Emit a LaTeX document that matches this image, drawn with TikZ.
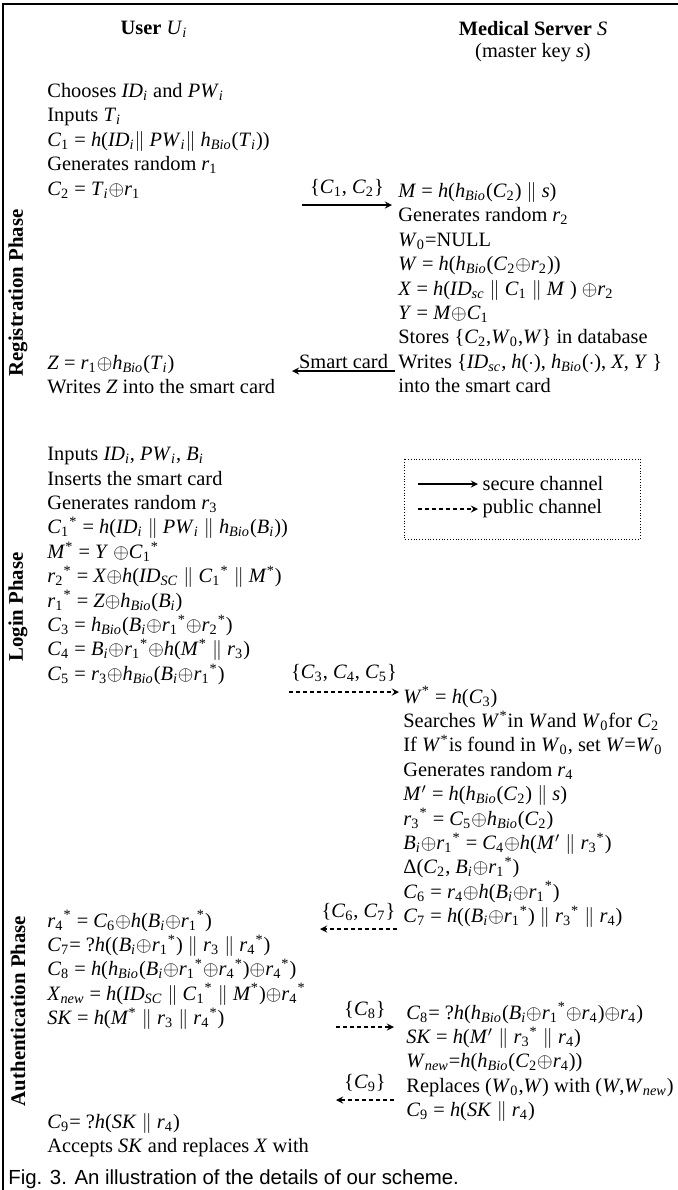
\documentclass[tikz,border=0pt]{standalone}
\usepackage{fontspec}
\setmainfont{Liberation Serif}
\newfontfamily\capfont{Liberation Sans}
\usetikzlibrary{arrows}
\setlength{\lineskiplimit}{-20pt}
\tikzstyle{arrow} = [->,>=stealth]
\tikzstyle{msg} = [arrow, semithick]
\tikzstyle{pub} = [arrow, semithick, dash pattern=on 2pt off 1.5pt]
\tikzstyle{steps} = [anchor=north west, inner sep=0pt, align=left,
font=\fontsize{10.2}{12.2}\selectfont]
\tikzstyle{lbl} = [inner sep=0pt, font=\fontsize{10.2}{12.2}\selectfont]
\tikzstyle{phase} = [rotate=90, inner sep=0pt, font=\bfseries\fontsize{10.4}{12}\selectfont]
\newcommand{\iv}[1]{\textit{#1}}
\newcommand{\lo}[1]{\textsubscript{#1}}
\newcommand{\ilo}[1]{\textsubscript{\textit{#1}}}
\newcommand{\sx}{\textsuperscript{*}}
\newcommand{\xo}{$\oplus$}
\newcommand{\cct}{\ $\|$\ }
\newcommand{\hb}{\textit{h}\ilo{Bio}}
\begin{document}
\begin{tikzpicture}[x=0.5pt, y=-0.5pt]
\useasboundingbox (0,0) rectangle (678,1190);
% Frame
\draw[line width=1pt] (3,1190) -- (3,4) -- (678,4);
% Headers
\node (user) [lbl] at (154,29) {\textbf{User} \iv{U}\ilo{i}};
\node (server) [lbl] at (533,29) {\textbf{Medical Server} \iv{S}};
\node (masterkey) [lbl] at (533,53) {(master key \iv{s})};
% Phases
\node (regphase) [phase] at (18,293) {Registration Phase};
\node (loginphase) [phase] at (18,607) {Login Phase};
\node (authphase) [phase] at (18,1011) {Authentication Phase};
% Registration phase
\node (regU) [steps] at (47,83) {Chooses \iv{ID}\ilo{i} and \iv{PW}\ilo{i}\\
Inputs \iv{T}\ilo{i}\\
\iv{C}\lo{1} = \iv{h}(\iv{ID}\ilo{i}$\|$ \iv{PW}\ilo{i}$\|$ \hb(\iv{T}\ilo{i}))\\
Generates random \iv{r}\lo{1}\\
\iv{C}\lo{2} = \iv{T}\ilo{i}\xo\iv{r}\lo{1}};
\node (regS) [steps] at (398,182) {\iv{M} = \iv{h}(\hb(\iv{C}\lo{2})\cct\iv{s})\\
Generates random \iv{r}\lo{2}\\
\iv{W}\lo{0}=NULL\\
\iv{W} = \iv{h}(\hb(\iv{C}\lo{2}\xo\iv{r}\lo{2}))\\
\iv{X} = \iv{h}(\iv{ID}\ilo{sc}\cct\iv{C}\lo{1}\cct\iv{M} ) \xo\iv{r}\lo{2}\\
\iv{Y} = \iv{M}\xo\iv{C}\lo{1}\\
Stores \{\iv{C}\lo{2},\iv{W}\lo{0},\iv{W}\} in database\\
Writes \{\iv{ID}\ilo{sc}, \iv{h}($\cdot$), \hb($\cdot$), \iv{X}, \iv{Y} \}\\
into the smart card};
\node (regUcard) [steps] at (47,355) {\iv{Z} = \iv{r}\lo{1}\xo\hb(\iv{T}\ilo{i})\\
Writes \iv{Z} into the smart card};
% Login phase
\node (loginU) [steps] at (47,447) {Inputs \iv{ID}\ilo{i}, \iv{PW}\ilo{i}, \iv{B}\ilo{i}\\
Inserts the smart card\\
Generates random \iv{r}\lo{3}\\
\iv{C}\lo{1}\sx{} = \iv{h}(\iv{ID}\ilo{i}\cct\iv{PW}\ilo{i}\cct\hb(\iv{B}\ilo{i}))\\
\iv{M}\sx{} = \iv{Y} \xo\iv{C}\lo{1}\sx\\
\iv{r}\lo{2}\sx{} = \iv{X}\xo\iv{h}(\iv{ID}\ilo{SC}\cct\iv{C}\lo{1}\sx\cct\iv{M}\sx)\\
\iv{r}\lo{1}\sx{} = \iv{Z}\xo\hb(\iv{B}\ilo{i})\\
\iv{C}\lo{3} = \hb(\iv{B}\ilo{i}\xo\iv{r}\lo{1}\sx\xo\iv{r}\lo{2}\sx)\\
\iv{C}\lo{4} = \iv{B}\ilo{i}\xo\iv{r}\lo{1}\sx\xo\iv{h}(\iv{M}\sx\cct\iv{r}\lo{3})\\
\iv{C}\lo{5} = \iv{r}\lo{3}\xo\hb(\iv{B}\ilo{i}\xo\iv{r}\lo{1}\sx)};
% Authentication phase
\node (authS) [steps] at (403,686) {\iv{W}\sx{} = \iv{h}(\iv{C}\lo{3})\\
Searches \iv{W}\sx in \iv{W}and \iv{W}\lo{0}for \iv{C}\lo{2}\\
If \iv{W}\sx is found in \iv{W}\lo{0}, set \iv{W}=\iv{W}\lo{0}\\
Generates random \iv{r}\lo{4}\\
\iv{M}$'$ = \iv{h}(\hb(\iv{C}\lo{2})\cct\iv{s})\\
\iv{r}\lo{3}\sx{} = \iv{C}\lo{5}\xo\hb(\iv{C}\lo{2})\\
\iv{B}\ilo{i}\xo\iv{r}\lo{1}\sx{} = \iv{C}\lo{4}\xo\iv{h}(\iv{M}$'$\cct\iv{r}\lo{3}\sx)\\
Δ(\iv{C}\lo{2}, \iv{B}\ilo{i}\xo\iv{r}\lo{1}\sx)\\
\iv{C}\lo{6} = \iv{r}\lo{4}\xo\iv{h}(\iv{B}\ilo{i}\xo\iv{r}\lo{1}\sx)\\
\iv{C}\lo{7} = \iv{h}((\iv{B}\ilo{i}\xo\iv{r}\lo{1}\sx)\cct\iv{r}\lo{3}\sx\cct\iv{r}\lo{4})};
\node (authU) [steps] at (47,910) {\iv{r}\lo{4}\sx{} = \iv{C}\lo{6}\xo\iv{h}(\iv{B}\ilo{i}\xo\iv{r}\lo{1}\sx)\\
\iv{C}\lo{7}= ?\iv{h}((\iv{B}\ilo{i}\xo\iv{r}\lo{1}\sx)\cct\iv{r}\lo{3}\cct\iv{r}\lo{4}\sx)\\
\iv{C}\lo{8} = \iv{h}(\hb(\iv{B}\ilo{i}\xo\iv{r}\lo{1}\sx\xo\iv{r}\lo{4}\sx)\xo\iv{r}\lo{4}\sx)\\
\iv{X}\ilo{new} = \iv{h}(\iv{ID}\ilo{SC}\cct\iv{C}\lo{1}\sx\cct\iv{M}\sx)\xo\iv{r}\lo{4}\sx\\
\iv{SK} = \iv{h}(\iv{M}\sx\cct\iv{r}\lo{3}\cct\iv{r}\lo{4}\sx)};
\node (updS) [steps] at (406,1002) {\iv{C}\lo{8}= ?\iv{h}(\hb(\iv{B}\ilo{i}\xo\iv{r}\lo{1}\sx\xo\iv{r}\lo{4})\xo\iv{r}\lo{4})\\
\iv{SK} = \iv{h}(\iv{M}$'$\cct\iv{r}\lo{3}\sx\cct\iv{r}\lo{4})\\
\iv{W}\ilo{new}=\iv{h}(\hb(\iv{C}\lo{2}\xo\iv{r}\lo{4}))\\
Replaces (\iv{W}\lo{0},\iv{W}) with (\iv{W},\iv{W}\ilo{new})\\
\iv{C}\lo{9} = \iv{h}(\iv{SK}\cct\iv{r}\lo{4})};
\node (finalU) [steps] at (47,1113) {\iv{C}\lo{9}= ?\iv{h}(\iv{SK}\cct\iv{r}\lo{4})\\
Accepts \iv{SK} and replaces \iv{X} with};
% Messages
\coordinate (m1a) at (302,205);
\coordinate (m1b) at (392,205);
\draw[msg] (m1a) -- node[lbl, above=4pt] (m1lbl) {\{\iv{C}\lo{1}, \iv{C}\lo{2}\}} (m1b);
\coordinate (m2a) at (395,371);
\coordinate (m2b) at (292,371);
\draw[msg] (m2a) -- node[lbl, above=1pt] (m2lbl) {Smart card} (m2b);
\coordinate (m3a) at (289,692);
\coordinate (m3b) at (399,692);
\draw[pub] (m3a) -- node[lbl, above=5pt] (m3lbl) {\{\iv{C}\lo{3}, \iv{C}\lo{4}, \iv{C}\lo{5}\}} (m3b);
\coordinate (m4a) at (397,929);
\coordinate (m4b) at (320,929);
\draw[pub] (m4a) -- node[lbl, above=4pt] (m4lbl) {\{\iv{C}\lo{6}, \iv{C}\lo{7}\}} (m4b);
\coordinate (m5a) at (336,1027);
\coordinate (m5b) at (394,1027);
\draw[pub] (m5a) -- node[lbl, above=4pt] (m5lbl) {\{\iv{C}\lo{8}\}} (m5b);
\coordinate (m6a) at (394,1100);
\coordinate (m6b) at (336,1100);
\draw[pub] (m6a) -- node[lbl, above=4pt] (m6lbl) {\{\iv{C}\lo{9}\}} (m6b);
% Legend
\draw[thin, densely dotted] (404,459) rectangle (640,539);
\coordinate (sec1) at (418,484);
\coordinate (sec2) at (478,484);
\coordinate (pub1) at (418,509);
\coordinate (pub2) at (478,509);
\draw[msg] (sec1) -- (sec2) node[lbl, right=2pt] (seclbl) {secure channel};
\draw[pub] (pub1) -- (pub2) node[lbl, right=2pt] (publbl) {public channel};
% Caption
\node (caption) [anchor=base west, inner sep=0pt, font=\capfont\fontsize{10.2}{12}\selectfont] at (8,1184) {Fig. 3. An illustration of the details of our scheme.};
\end{tikzpicture}
\end{document}
